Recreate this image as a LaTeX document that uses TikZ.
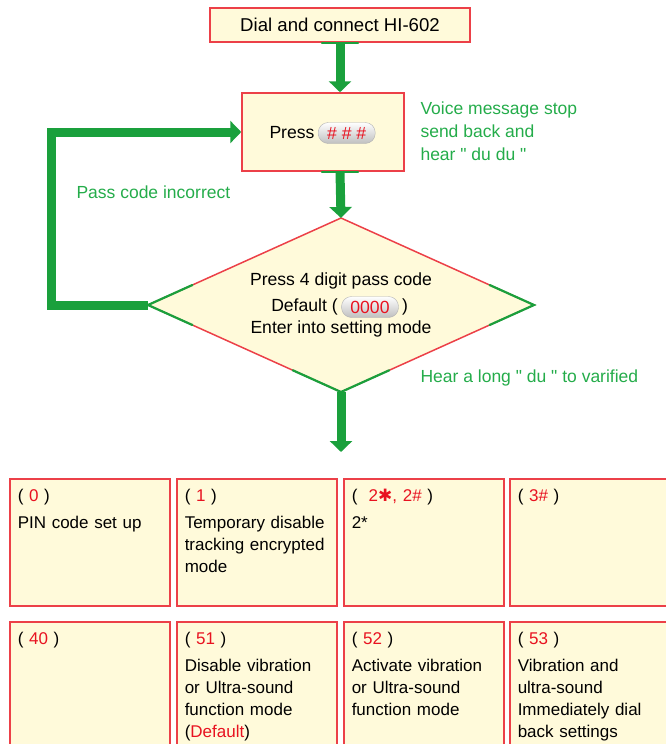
\documentclass[tikz,border=0pt]{standalone}
\usepackage{fontspec}
\setmainfont{Liberation Sans}
\newfontfamily\plainfont{Liberation Sans}
\newfontfamily\symfont{DejaVu Sans}
\usetikzlibrary{positioning,shapes.geometric,arrows.meta,calc}
\definecolor{boxred}{RGB}{236,64,72}
\definecolor{boxfill}{RGB}{255,250,218}
\definecolor{flowgreen}{RGB}{26,160,60}
\definecolor{notegreen}{RGB}{36,172,74}
\definecolor{txtred}{RGB}{232,18,32}
\newcommand{\rd}[1]{\textcolor{txtred}{#1}}
\begin{document}
\begin{tikzpicture}[x=1pt,y=-1pt,
	every node/.style={font=\fontsize{17.6}{23}\selectfont},
	box/.style={draw=boxred,line width=1.5pt,fill=boxfill},
	cell/.style={box,anchor=north west,text width=144pt,text height=15pt,text depth=96pt,inner xsep=8pt,inner ysep=8pt,align=left,font=\fontsize{17}{22}\selectfont},
	pill/.style={draw=gray!60,rounded corners=10pt,top color=white,bottom color=gray!50,minimum width=57pt,minimum height=21pt,inner sep=0pt,text=txtred},
	note/.style={text=notegreen,anchor=west,align=left,font=\plainfont\fontsize{17.5}{23}\selectfont},
	flow/.style={draw=flowgreen,line width=9pt,line join=miter,-{Triangle[width=22pt,length=11pt]}},
	seam/.style={draw=flowgreen,line width=2.2pt,line cap=round}]
		\useasboundingbox (0,0) rectangle (666,744);
		\clip (0,0) rectangle (666,744);
		% top of the flow
		\node[box,minimum width=260pt,minimum height=34pt,font=\fontsize{18.6}{23}\selectfont] (dial) at (340,25) {Dial and connect HI-602};
		\node[box,minimum width=162pt,minimum height=78pt] (press) at (323,132) {};
		\node (presstxt) at (292,133) {Press};
		\node[pill,right=0pt of presstxt] (hash) {\# \# \#};
		\draw[seam] ($(dial.south)+(-18,0)$) -- ($(dial.south)+(18,0)$);
		\draw[seam] ($(dial.south |- press.south)+(-18,0)$) -- ($(dial.south |- press.south)+(18,0)$);
		% pass code check
		\node[diamond,box,minimum width=386pt,minimum height=174pt,inner sep=0pt,outer sep=0pt] (dia) at (341,305) {};
		\draw[seam] ($(dia.west)!0.23!(dia.north)$) -- (dia.west) -- ($(dia.west)!0.23!(dia.south)$);
		\draw[seam] ($(dia.east)!0.23!(dia.north)$) -- (dia.east) -- ($(dia.east)!0.23!(dia.south)$);
		\draw[seam] ($(dia.south)!0.25!(dia.west)$) -- (dia.south) -- ($(dia.south)!0.25!(dia.east)$);
		\node (line1) at (341,281) {Press 4 digit pass code};
		\node[pill] (pin) at (370,307) {0000};
		\node[left=0pt of pin] (dfl) {Default (};
		\node[right=0pt of pin] (dfr) {)};
		\node (line3) at (341,329) {Enter into setting mode};
		% connectors
		\coordinate (down) at (341,452);
		\draw[flow] (dial.south) -- (dial.south |- press.north);
		\draw[flow] (dial.south |- press.south) -- (dia.north);
		\draw[flow] (dia.west) -- ++(-97,0) |- (press.west);
		\draw[flow] (dia.south) -- (down);
		% green notes
		\node[note] (voice) at (417,131) {Voice message stop\\send back and\\hear " du du "};
		\node[note] (wrong) at (73,192) {Pass code incorrect};
		\node[note] (longdu) at (417,378) {Hear a long " du " to varified};
		% setting codes
		\node[cell] (c0) at (9,478) {( \rd{0} )\\[5pt]PIN code set up};
		\node[cell] (c1) at (176,478) {( \rd{1} )\\[5pt]Temporary disable\\tracking encrypted\\mode};
		\node[cell] (c2) at (343,478) {(~ \rd{2{\symfont ✱}, 2\#} )\\[5pt]2*};
		\node[cell] (c3) at (509,478) {( \rd{3\#} )};
		\node[cell] (c4) at (9,621) {( \rd{40} )};
		\node[cell] (c5) at (176,621) {( \rd{51} )\\[5pt]Disable vibration\\or Ultra-sound\\function mode\\(\rd{Default})};
		\node[cell] (c6) at (343,621) {( \rd{52} )\\[5pt]Activate vibration\\or Ultra-sound\\function mode};
		\node[cell] (c7) at (509,621) {( \rd{53} )\\[5pt]Vibration and\\ultra-sound\\Immediately dial\\back settings};
\end{tikzpicture}
\end{document}
